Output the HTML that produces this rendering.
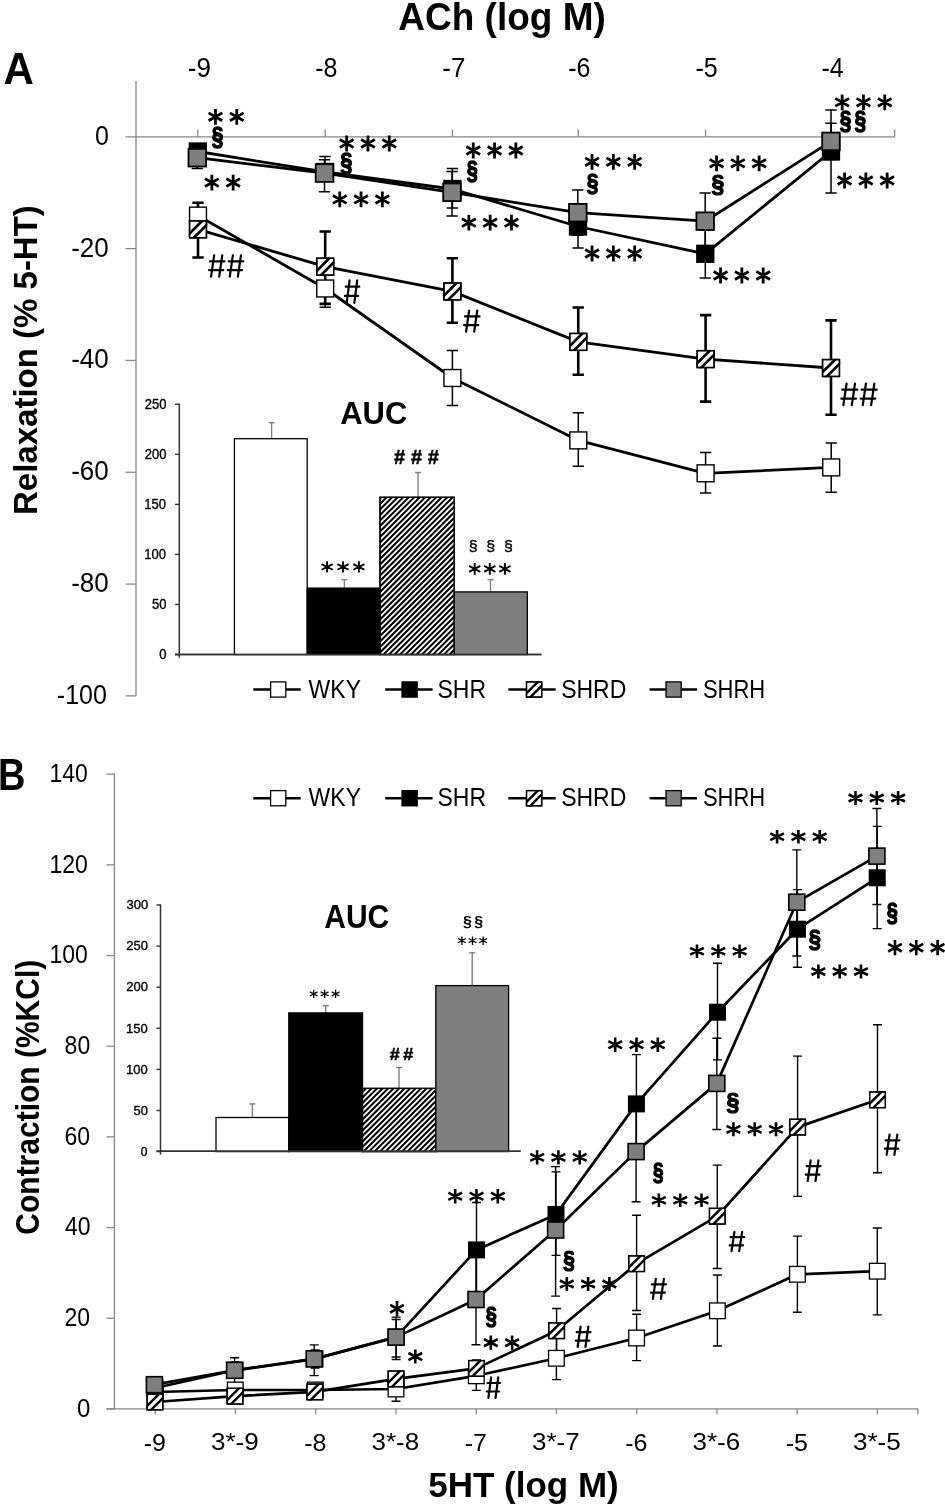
<!DOCTYPE html>
<html><head><meta charset="utf-8"><style>
html,body{margin:0;padding:0;background:#fff;}
svg{display:block;}
text{font-family:"Liberation Sans",sans-serif;font-kerning:none;}
svg{will-change:transform;}
</style></head><body>
<svg width="945" height="1506" viewBox="0 0 945 1506">
<rect width="945" height="1506" fill="#fff"/>
<text transform="matrix(0.42,0,0,0.45,3.55,84)" font-size="100" font-weight="bold" fill="#000">A</text>
<text transform="matrix(0.37,0,0,0.38,398.27,30.4)" font-size="100" font-weight="bold" fill="#000">ACh (log M)</text>
<text transform="matrix(0.26,0,0,0.27,187.76,76.74)" font-size="100" font-weight="normal" fill="#000">-9</text>
<text transform="matrix(0.25,0,0,0.27,315.17,76.74)" font-size="100" font-weight="normal" fill="#000">-8</text>
<text transform="matrix(0.26,0,0,0.28,442.36,77)" font-size="100" font-weight="normal" fill="#000">-7</text>
<text transform="matrix(0.25,0,0,0.27,568.27,76.74)" font-size="100" font-weight="normal" fill="#000">-6</text>
<text transform="matrix(0.25,0,0,0.27,695.47,76.73)" font-size="100" font-weight="normal" fill="#000">-5</text>
<text transform="matrix(0.25,0,0,0.28,821.39,77)" font-size="100" font-weight="normal" fill="#000">-4</text>
<line x1="136" y1="81" x2="136" y2="696" stroke="#868686" stroke-width="1.3"/>
<line x1="125.5" y1="136.8" x2="895" y2="136.8" stroke="#868686" stroke-width="1.3"/>
<line x1="197.8" y1="129.5" x2="197.8" y2="136.8" stroke="#868686" stroke-width="1.3"/>
<line x1="325.2" y1="129.5" x2="325.2" y2="136.8" stroke="#868686" stroke-width="1.3"/>
<line x1="452.4" y1="129.5" x2="452.4" y2="136.8" stroke="#868686" stroke-width="1.3"/>
<line x1="578.3" y1="129.5" x2="578.3" y2="136.8" stroke="#868686" stroke-width="1.3"/>
<line x1="705.5" y1="129.5" x2="705.5" y2="136.8" stroke="#868686" stroke-width="1.3"/>
<line x1="831.4" y1="129.5" x2="831.4" y2="136.8" stroke="#868686" stroke-width="1.3"/>
<line x1="894.6" y1="129.5" x2="894.6" y2="136.8" stroke="#868686" stroke-width="1.3"/>
<line x1="125.5" y1="248.62" x2="136" y2="248.62" stroke="#868686" stroke-width="1.3"/>
<line x1="125.5" y1="360.44" x2="136" y2="360.44" stroke="#868686" stroke-width="1.3"/>
<line x1="125.5" y1="472.26" x2="136" y2="472.26" stroke="#868686" stroke-width="1.3"/>
<line x1="125.5" y1="584.08" x2="136" y2="584.08" stroke="#868686" stroke-width="1.3"/>
<line x1="125.5" y1="695.9" x2="136" y2="695.9" stroke="#868686" stroke-width="1.3"/>
<text transform="matrix(0.25,0,0,0.27,95.02,144.74)" font-size="100" font-weight="normal" fill="#000">0</text>
<text transform="matrix(0.26,0,0,0.27,71.14,256.56)" font-size="100" font-weight="normal" fill="#000">-20</text>
<text transform="matrix(0.26,0,0,0.27,71.14,368.38)" font-size="100" font-weight="normal" fill="#000">-40</text>
<text transform="matrix(0.26,0,0,0.27,71.14,480.2)" font-size="100" font-weight="normal" fill="#000">-60</text>
<text transform="matrix(0.26,0,0,0.27,71.14,592.02)" font-size="100" font-weight="normal" fill="#000">-80</text>
<text transform="matrix(0.25,0,0,0.27,56.87,703.84)" font-size="100" font-weight="normal" fill="#000">-100</text>
<text transform="matrix(0,-0.33,0.34,0,37.4,515)" font-size="100" font-weight="bold">Relaxation (% 5-HT)</text>
<line x1="179.3" y1="403.5" x2="179.3" y2="657.8" stroke="#333" stroke-width="1.5"/>
<line x1="175" y1="654.5" x2="541.5" y2="654.5" stroke="#333" stroke-width="1.4"/>
<line x1="175" y1="654.5" x2="179.3" y2="654.5" stroke="#333" stroke-width="1.4"/>
<text transform="matrix(0.13,0,0,0.14,159.37,659.19)" font-size="100" font-weight="normal" fill="#000" stroke="#000" stroke-width="2.64" stroke-linejoin="round">0</text>
<line x1="175" y1="604.46" x2="179.3" y2="604.46" stroke="#333" stroke-width="1.4"/>
<text transform="matrix(0.13,0,0,0.14,152.11,609.15)" font-size="100" font-weight="normal" fill="#000" stroke="#000" stroke-width="2.63" stroke-linejoin="round">50</text>
<line x1="175" y1="554.42" x2="179.3" y2="554.42" stroke="#333" stroke-width="1.4"/>
<text transform="matrix(0.13,0,0,0.14,144.36,559.11)" font-size="100" font-weight="normal" fill="#000" stroke="#000" stroke-width="2.6" stroke-linejoin="round">100</text>
<line x1="175" y1="504.38" x2="179.3" y2="504.38" stroke="#333" stroke-width="1.4"/>
<text transform="matrix(0.13,0,0,0.14,144.36,509.07)" font-size="100" font-weight="normal" fill="#000" stroke="#000" stroke-width="2.6" stroke-linejoin="round">150</text>
<line x1="175" y1="454.34" x2="179.3" y2="454.34" stroke="#333" stroke-width="1.4"/>
<text transform="matrix(0.13,0,0,0.14,144.72,459.03)" font-size="100" font-weight="normal" fill="#000" stroke="#000" stroke-width="2.62" stroke-linejoin="round">200</text>
<line x1="175" y1="404.3" x2="179.3" y2="404.3" stroke="#333" stroke-width="1.4"/>
<text transform="matrix(0.13,0,0,0.14,144.72,408.99)" font-size="100" font-weight="normal" fill="#000" stroke="#000" stroke-width="2.62" stroke-linejoin="round">250</text>
<line x1="271.6" y1="422.6" x2="271.6" y2="438.7" stroke="#7f7f7f" stroke-width="1.4"/>
<line x1="268.6" y1="422.6" x2="274.6" y2="422.6" stroke="#7f7f7f" stroke-width="1.4"/>
<line x1="344.4" y1="579.6" x2="344.4" y2="588.1" stroke="#7f7f7f" stroke-width="1.4"/>
<line x1="341.4" y1="579.6" x2="347.4" y2="579.6" stroke="#7f7f7f" stroke-width="1.4"/>
<line x1="418" y1="472.5" x2="418" y2="497.3" stroke="#7f7f7f" stroke-width="1.4"/>
<line x1="415" y1="472.5" x2="421" y2="472.5" stroke="#7f7f7f" stroke-width="1.4"/>
<line x1="490.5" y1="579.6" x2="490.5" y2="591.9" stroke="#7f7f7f" stroke-width="1.4"/>
<line x1="487.5" y1="579.6" x2="493.5" y2="579.6" stroke="#7f7f7f" stroke-width="1.4"/>
<rect x="234.4" y="438.7" width="72.8" height="215.8" fill="#fff" stroke="#000" stroke-width="1.3"/>
<rect x="307.2" y="588.1" width="72.8" height="66.4" fill="#000" stroke="#000" stroke-width="1.3"/>
<rect x="380" y="497.3" width="74.3" height="157.2" fill="#fff" stroke="#000" stroke-width="1.3"/>
<clipPath id="hbA"><rect x="380" y="497.3" width="74.3" height="157.2"/></clipPath>
<path clip-path="url(#hbA)" d="M180 660L480 360M185.5 660L485.5 360M191 660L491 360M196.5 660L496.5 360M202 660L502 360M207.5 660L507.5 360M213 660L513 360M218.5 660L518.5 360M224 660L524 360M229.5 660L529.5 360M235 660L535 360M240.5 660L540.5 360M246 660L546 360M251.5 660L551.5 360M257 660L557 360M262.5 660L562.5 360M268 660L568 360M273.5 660L573.5 360M279 660L579 360M284.5 660L584.5 360M290 660L590 360M295.5 660L595.5 360M301 660L601 360M306.5 660L606.5 360M312 660L612 360M317.5 660L617.5 360M323 660L623 360M328.5 660L628.5 360M334 660L634 360M339.5 660L639.5 360M345 660L645 360M350.5 660L650.5 360M356 660L656 360M361.5 660L661.5 360M367 660L667 360M372.5 660L672.5 360M378 660L678 360M383.5 660L683.5 360M389 660L689 360M394.5 660L694.5 360M400 660L700 360M405.5 660L705.5 360M411 660L711 360M416.5 660L716.5 360M422 660L722 360M427.5 660L727.5 360M433 660L733 360M438.5 660L738.5 360M444 660L744 360M449.5 660L749.5 360M455 660L755 360M460.5 660L760.5 360" stroke="#000" stroke-width="2.0"/>
<rect x="380" y="497.3" width="74.3" height="157.2" fill="none" stroke="#000" stroke-width="1.3"/>
<rect x="454.3" y="591.9" width="73" height="62.6" fill="#7f7f7f" stroke="#000" stroke-width="1.3"/>
<line x1="175" y1="654.5" x2="541.5" y2="654.5" stroke="#333" stroke-width="1.7"/>
<text transform="matrix(0.31,0,0,0.32,340.23,423.9)" font-size="100" font-weight="bold" fill="#000">AUC</text>
<path d="M327.1 561.2V572.6M321.48 564.05L332.73 569.75M321.48 569.75L332.73 564.05M343 561.2V572.6M337.38 564.05L348.62 569.75M337.38 569.75L348.62 564.05M358.9 561.2V572.6M353.28 564.05L364.53 569.75M353.28 569.75L364.53 564.05" stroke="#000" stroke-width="1.9" fill="none"/>
<path d="M474.7 563V574.8M469.08 565.95L480.33 571.85M469.08 571.85L480.33 565.95M489.8 563V574.8M484.18 565.95L495.43 571.85M484.18 571.85L495.43 565.95M504.9 563V574.8M499.28 565.95L510.53 571.85M499.28 571.85L510.53 565.95" stroke="#000" stroke-width="1.9" fill="none"/>
<text transform="matrix(0.2,0,0,0.2,394.11,464.35)" font-size="100" font-weight="bold" fill="#000" stroke="#000" stroke-width="2.5" stroke-linejoin="round">#</text>
<text transform="matrix(0.2,0,0,0.2,410.91,464.35)" font-size="100" font-weight="bold" fill="#000" stroke="#000" stroke-width="2.5" stroke-linejoin="round">#</text>
<text transform="matrix(0.2,0,0,0.2,427.71,464.35)" font-size="100" font-weight="bold" fill="#000" stroke="#000" stroke-width="2.5" stroke-linejoin="round">#</text>
<text transform="matrix(0.16,0,0,0.15,468.8,551.13)" font-size="100" font-weight="normal" fill="#000" stroke="#000" stroke-width="2.57" stroke-linejoin="round">§</text>
<text transform="matrix(0.16,0,0,0.15,486.3,551.13)" font-size="100" font-weight="normal" fill="#000" stroke="#000" stroke-width="2.57" stroke-linejoin="round">§</text>
<text transform="matrix(0.16,0,0,0.15,503.9,551.13)" font-size="100" font-weight="normal" fill="#000" stroke="#000" stroke-width="2.57" stroke-linejoin="round">§</text>
<line x1="253.3" y1="689.5" x2="300.7" y2="689.5" stroke="#000" stroke-width="2.4"/>
<rect x="270.6" y="681.9" width="15.2" height="15.2" fill="#fff" stroke="#000" stroke-width="1.3"/>
<text transform="matrix(0.23,0,0,0.25,308.6,697.5)" font-size="100" font-weight="normal" fill="#000">WKY</text>
<line x1="385.2" y1="689.5" x2="432.6" y2="689.5" stroke="#000" stroke-width="2.4"/>
<rect x="402" y="681.9" width="15.2" height="15.2" fill="#000" stroke="#000" stroke-width="1.3"/>
<text transform="matrix(0.23,0,0,0.25,437.45,697.56)" font-size="100" font-weight="normal" fill="#000">SHR</text>
<line x1="508.3" y1="689.5" x2="555.7" y2="689.5" stroke="#000" stroke-width="2.4"/>
<rect x="526.5" y="681.9" width="15.2" height="15.2" fill="#fff" stroke="#000" stroke-width="1.3"/>
<clipPath id="c1"><rect x="525.85" y="681.25" width="16.5" height="16.5"/></clipPath>
<path clip-path="url(#c1)" d="M515.67 704.07L548.67 671.07M519.53 707.93L552.53 674.93" stroke="#000" stroke-width="2.39"/>
<rect x="526.5" y="681.9" width="15.2" height="15.2" fill="none" stroke="#000" stroke-width="1.3"/>
<text transform="matrix(0.23,0,0,0.25,561.14,697.56)" font-size="100" font-weight="normal" fill="#000">SHRD</text>
<line x1="649.6" y1="689.5" x2="697" y2="689.5" stroke="#000" stroke-width="2.4"/>
<rect x="666" y="681.9" width="15.2" height="15.2" fill="#7f7f7f" stroke="#000" stroke-width="1.3"/>
<text transform="matrix(0.22,0,0,0.25,702.9,697.56)" font-size="100" font-weight="normal" fill="#000">SHRH</text>
<path d="M198 210V222M192.35 210H203.65M192.35 222H203.65" stroke="#000" stroke-width="1.5" fill="none"/>
<path d="M325.2 269.8V307.2M319.55 269.8H330.85M319.55 307.2H330.85" stroke="#000" stroke-width="1.5" fill="none"/>
<path d="M452.4 350.6V405.4M446.75 350.6H458.05M446.75 405.4H458.05" stroke="#000" stroke-width="1.5" fill="none"/>
<path d="M578.3 412.7V466.2M572.65 412.7H583.95M572.65 466.2H583.95" stroke="#000" stroke-width="1.5" fill="none"/>
<path d="M705.6 452.5V493.1M699.95 452.5H711.25M699.95 493.1H711.25" stroke="#000" stroke-width="1.5" fill="none"/>
<path d="M831.2 443.1V492.2M825.55 443.1H836.85M825.55 492.2H836.85" stroke="#000" stroke-width="1.5" fill="none"/>
<path d="M197.8 148V155M192.15 148H203.45M192.15 155H203.45" stroke="#000" stroke-width="1.5" fill="none"/>
<path d="M325 156.5V180M319.35 156.5H330.65M319.35 180H330.65" stroke="#000" stroke-width="1.5" fill="none"/>
<path d="M452.4 168.6V208M446.75 168.6H458.05M446.75 208H458.05" stroke="#000" stroke-width="1.5" fill="none"/>
<path d="M578 205V248M572.35 205H583.65M572.35 248H583.65" stroke="#000" stroke-width="1.5" fill="none"/>
<path d="M705.3 229.5V278.1M699.65 229.5H710.95M699.65 278.1H710.95" stroke="#000" stroke-width="1.5" fill="none"/>
<path d="M831 110.1V193M825.35 110.1H836.65M825.35 193H836.65" stroke="#000" stroke-width="1.5" fill="none"/>
<path d="M198 202.7V257.5M192.35 202.7H203.65M192.35 257.5H203.65" stroke="#000" stroke-width="2.6" fill="none"/>
<path d="M325.2 231.5V303.9M319.55 231.5H330.85M319.55 303.9H330.85" stroke="#000" stroke-width="2.6" fill="none"/>
<path d="M452.4 258.3V322.8M446.75 258.3H458.05M446.75 322.8H458.05" stroke="#000" stroke-width="2.6" fill="none"/>
<path d="M578.25 307.5V374.8M572.6 307.5H583.9M572.6 374.8H583.9" stroke="#000" stroke-width="2.6" fill="none"/>
<path d="M705.6 315.1V401.6M699.95 315.1H711.25M699.95 401.6H711.25" stroke="#000" stroke-width="2.6" fill="none"/>
<path d="M831 320.4V414.7M825.35 320.4H836.65M825.35 414.7H836.65" stroke="#000" stroke-width="2.6" fill="none"/>
<path d="M197.3 147.1V168.4M191.65 147.1H202.95M191.65 168.4H202.95" stroke="#000" stroke-width="1.5" fill="none"/>
<path d="M324.5 159.8V191.7M318.85 159.8H330.15M318.85 191.7H330.15" stroke="#000" stroke-width="1.5" fill="none"/>
<path d="M452 171.6V216.1M446.35 171.6H457.65M446.35 216.1H457.65" stroke="#000" stroke-width="1.5" fill="none"/>
<path d="M577.8 190.1V235.3M572.15 190.1H583.45M572.15 235.3H583.45" stroke="#000" stroke-width="1.5" fill="none"/>
<path d="M705.2 193V249.4M699.55 193H710.85M699.55 249.4H710.85" stroke="#000" stroke-width="1.5" fill="none"/>
<path d="M831 123.2V159.6M825.35 123.2H836.65M825.35 159.6H836.65" stroke="#000" stroke-width="1.5" fill="none"/>
<polyline points="198,215.6 325.2,288.5 452.4,378 578.3,440.4 705.6,473.3 831.2,467.4" fill="none" stroke="#000" stroke-width="2.8" stroke-linejoin="round"/>
<rect x="189.55" y="207.15" width="16.9" height="16.9" fill="#fff" stroke="#000" stroke-width="1.4"/>
<rect x="316.75" y="280.05" width="16.9" height="16.9" fill="#fff" stroke="#000" stroke-width="1.4"/>
<rect x="443.95" y="369.55" width="16.9" height="16.9" fill="#fff" stroke="#000" stroke-width="1.4"/>
<rect x="569.85" y="431.95" width="16.9" height="16.9" fill="#fff" stroke="#000" stroke-width="1.4"/>
<rect x="697.15" y="464.85" width="16.9" height="16.9" fill="#fff" stroke="#000" stroke-width="1.4"/>
<rect x="822.75" y="458.95" width="16.9" height="16.9" fill="#fff" stroke="#000" stroke-width="1.4"/>
<polyline points="197.8,151.5 325,172 452.4,189 578,226.5 705.3,253.8 831,151.5" fill="none" stroke="#000" stroke-width="2.8" stroke-linejoin="round"/>
<rect x="189.35" y="143.05" width="16.9" height="16.9" fill="#000" stroke="#000" stroke-width="1.4"/>
<rect x="316.55" y="163.55" width="16.9" height="16.9" fill="#000" stroke="#000" stroke-width="1.4"/>
<rect x="443.95" y="180.55" width="16.9" height="16.9" fill="#000" stroke="#000" stroke-width="1.4"/>
<rect x="569.55" y="218.05" width="16.9" height="16.9" fill="#000" stroke="#000" stroke-width="1.4"/>
<rect x="696.85" y="245.35" width="16.9" height="16.9" fill="#000" stroke="#000" stroke-width="1.4"/>
<rect x="822.55" y="143.05" width="16.9" height="16.9" fill="#000" stroke="#000" stroke-width="1.4"/>
<polyline points="198,229.3 325.2,266.7 452.4,291.4 578.25,341.9 705.6,359.1 831,368" fill="none" stroke="#000" stroke-width="2.8" stroke-linejoin="round"/>
<rect x="189.55" y="220.85" width="16.9" height="16.9" fill="#fff" stroke="#000" stroke-width="1.4"/>
<clipPath id="c2"><rect x="188.85" y="220.15" width="18.3" height="18.3"/></clipPath>
<path clip-path="url(#c2)" d="M177.56 245.46L214.16 208.86M181.84 249.74L218.44 213.14" stroke="#000" stroke-width="2.65"/>
<rect x="189.55" y="220.85" width="16.9" height="16.9" fill="none" stroke="#000" stroke-width="1.4"/>
<rect x="316.75" y="258.25" width="16.9" height="16.9" fill="#fff" stroke="#000" stroke-width="1.4"/>
<clipPath id="c3"><rect x="316.05" y="257.55" width="18.3" height="18.3"/></clipPath>
<path clip-path="url(#c3)" d="M304.76 282.86L341.36 246.26M309.04 287.14L345.64 250.54" stroke="#000" stroke-width="2.65"/>
<rect x="316.75" y="258.25" width="16.9" height="16.9" fill="none" stroke="#000" stroke-width="1.4"/>
<rect x="443.95" y="282.95" width="16.9" height="16.9" fill="#fff" stroke="#000" stroke-width="1.4"/>
<clipPath id="c4"><rect x="443.25" y="282.25" width="18.3" height="18.3"/></clipPath>
<path clip-path="url(#c4)" d="M431.96 307.56L468.56 270.96M436.24 311.84L472.84 275.24" stroke="#000" stroke-width="2.65"/>
<rect x="443.95" y="282.95" width="16.9" height="16.9" fill="none" stroke="#000" stroke-width="1.4"/>
<rect x="569.8" y="333.45" width="16.9" height="16.9" fill="#fff" stroke="#000" stroke-width="1.4"/>
<clipPath id="c5"><rect x="569.1" y="332.75" width="18.3" height="18.3"/></clipPath>
<path clip-path="url(#c5)" d="M557.81 358.06L594.41 321.46M562.09 362.34L598.69 325.74" stroke="#000" stroke-width="2.65"/>
<rect x="569.8" y="333.45" width="16.9" height="16.9" fill="none" stroke="#000" stroke-width="1.4"/>
<rect x="697.15" y="350.65" width="16.9" height="16.9" fill="#fff" stroke="#000" stroke-width="1.4"/>
<clipPath id="c6"><rect x="696.45" y="349.95" width="18.3" height="18.3"/></clipPath>
<path clip-path="url(#c6)" d="M685.16 375.26L721.76 338.66M689.44 379.54L726.04 342.94" stroke="#000" stroke-width="2.65"/>
<rect x="697.15" y="350.65" width="16.9" height="16.9" fill="none" stroke="#000" stroke-width="1.4"/>
<rect x="822.55" y="359.55" width="16.9" height="16.9" fill="#fff" stroke="#000" stroke-width="1.4"/>
<clipPath id="c7"><rect x="821.85" y="358.85" width="18.3" height="18.3"/></clipPath>
<path clip-path="url(#c7)" d="M810.56 384.16L847.16 347.56M814.84 388.44L851.44 351.84" stroke="#000" stroke-width="2.65"/>
<rect x="822.55" y="359.55" width="16.9" height="16.9" fill="none" stroke="#000" stroke-width="1.4"/>
<polyline points="197.3,157.7 324.5,173.1 452,192.3 577.8,212.7 705.2,221.2 831,141.4" fill="none" stroke="#000" stroke-width="2.8" stroke-linejoin="round"/>
<rect x="188.5" y="148.9" width="17.6" height="17.6" fill="#7f7f7f" stroke="#000" stroke-width="1.8"/>
<rect x="315.7" y="164.3" width="17.6" height="17.6" fill="#7f7f7f" stroke="#000" stroke-width="1.8"/>
<rect x="443.2" y="183.5" width="17.6" height="17.6" fill="#7f7f7f" stroke="#000" stroke-width="1.8"/>
<rect x="569" y="203.9" width="17.6" height="17.6" fill="#7f7f7f" stroke="#000" stroke-width="1.8"/>
<rect x="696.4" y="212.4" width="17.6" height="17.6" fill="#7f7f7f" stroke="#000" stroke-width="1.8"/>
<rect x="822.2" y="132.6" width="17.6" height="17.6" fill="#7f7f7f" stroke="#000" stroke-width="1.8"/>
<path d="M215.45 108.9V124.7M208.6 112.85L222.3 120.75M208.6 120.75L222.3 112.85M236.75 108.9V124.7M229.9 112.85L243.6 120.75M229.9 120.75L243.6 112.85" stroke="#000" stroke-width="2.8" fill="none"/>
<text transform="matrix(0.21,0,0,0.26,211.65,145.2)" font-size="100" font-weight="bold" fill="#000" stroke="#000" stroke-width="5.08" stroke-linejoin="round">§</text>
<path d="M211.85 174.7V190.5M205 178.65L218.7 186.55M205 186.55L218.7 178.65M233.15 174.7V190.5M226.3 178.65L240 186.55M226.3 186.55L240 178.65" stroke="#000" stroke-width="2.8" fill="none"/>
<path d="M214.16 255.4L211.08 276.7M222.26 255.4L219.18 276.7M209.98 261.35H224.5M209.1 270.16H223.27M232.86 255.4L229.78 276.7M240.96 255.4L237.88 276.7M228.68 261.35H243.2M227.8 270.16H241.97" stroke="#000" stroke-width="2.2" stroke-linecap="round" fill="none"/>
<path d="M346.65 135.6V151.4M339.8 139.55L353.5 147.45M339.8 147.45L353.5 139.55M367.95 135.6V151.4M361.1 139.55L374.8 147.45M361.1 147.45L374.8 139.55M389.25 135.6V151.4M382.4 139.55L396.1 147.45M382.4 147.45L396.1 139.55" stroke="#000" stroke-width="2.8" fill="none"/>
<text transform="matrix(0.22,0,0,0.25,340.23,170.55)" font-size="100" font-weight="bold" fill="#000" stroke="#000" stroke-width="5.07" stroke-linejoin="round">§</text>
<path d="M339.75 191.5V207.3M332.9 195.45L346.6 203.35M332.9 203.35L346.6 195.45M361.05 191.5V207.3M354.2 195.45L367.9 203.35M354.2 203.35L367.9 195.45M382.35 191.5V207.3M375.5 195.45L389.2 203.35M375.5 203.35L389.2 195.45" stroke="#000" stroke-width="2.8" fill="none"/>
<path d="M349.61 280.4L346.7 302.8M357.25 280.4L354.34 302.8M345.73 286.68H359.3M344.9 295.9H358.14" stroke="#000" stroke-width="2.2" stroke-linecap="round" fill="none"/>
<path d="M473.25 142.6V158.4M466.4 146.55L480.1 154.45M466.4 154.45L480.1 146.55M494.55 142.6V158.4M487.7 146.55L501.4 154.45M487.7 154.45L501.4 146.55M515.85 142.6V158.4M509 146.55L522.7 154.45M509 154.45L522.7 146.55" stroke="#000" stroke-width="2.8" fill="none"/>
<text transform="matrix(0.2,0,0,0.26,466.67,178.74)" font-size="100" font-weight="bold" fill="#000" stroke="#000" stroke-width="5.22" stroke-linejoin="round">§</text>
<path d="M468.85 214.8V230.6M462 218.75L475.7 226.65M462 226.65L475.7 218.75M490.15 214.8V230.6M483.3 218.75L497 226.65M483.3 226.65L497 218.75M511.45 214.8V230.6M504.6 218.75L518.3 226.65M504.6 226.65L518.3 218.75" stroke="#000" stroke-width="2.8" fill="none"/>
<path d="M469.16 310.5L466.08 331.6M477.26 310.5L474.18 331.6M464.98 316.39H479.5M464.1 325.13H478.27" stroke="#000" stroke-width="2.2" stroke-linecap="round" fill="none"/>
<path d="M592.05 153.9V169.7M585.2 157.85L598.9 165.75M585.2 165.75L598.9 157.85M613.35 153.9V169.7M606.5 157.85L620.2 165.75M606.5 165.75L620.2 157.85M634.65 153.9V169.7M627.8 157.85L641.5 165.75M627.8 165.75L641.5 157.85" stroke="#000" stroke-width="2.8" fill="none"/>
<text transform="matrix(0.21,0,0,0.24,586.75,190.86)" font-size="100" font-weight="bold" fill="#000" stroke="#000" stroke-width="5.25" stroke-linejoin="round">§</text>
<path d="M592.05 245.6V261.4M585.2 249.55L598.9 257.45M585.2 257.45L598.9 249.55M613.35 245.6V261.4M606.5 249.55L620.2 257.45M606.5 257.45L620.2 249.55M634.65 245.6V261.4M627.8 249.55L641.5 257.45M627.8 257.45L641.5 249.55" stroke="#000" stroke-width="2.8" fill="none"/>
<path d="M716.55 155.4V171.2M709.7 159.35L723.4 167.25M709.7 167.25L723.4 159.35M737.85 155.4V171.2M731 159.35L744.7 167.25M731 167.25L744.7 159.35M759.15 155.4V171.2M752.3 159.35L766 167.25M752.3 167.25L766 159.35" stroke="#000" stroke-width="2.8" fill="none"/>
<text transform="matrix(0.23,0,0,0.24,711.4,192.06)" font-size="100" font-weight="bold" fill="#000" stroke="#000" stroke-width="5.02" stroke-linejoin="round">§</text>
<path d="M720.55 267.6V283.4M713.7 271.55L727.4 279.45M713.7 279.45L727.4 271.55M741.85 267.6V283.4M735 271.55L748.7 279.45M735 279.45L748.7 271.55M763.15 267.6V283.4M756.3 271.55L770 279.45M756.3 279.45L770 271.55" stroke="#000" stroke-width="2.8" fill="none"/>
<path d="M842.15 94.4V110.2M835.3 98.35L849 106.25M835.3 106.25L849 98.35M863.45 94.4V110.2M856.6 98.35L870.3 106.25M856.6 106.25L870.3 98.35M884.75 94.4V110.2M877.9 98.35L891.6 106.25M877.9 106.25L891.6 98.35" stroke="#000" stroke-width="2.8" fill="none"/>
<text transform="matrix(0.21,0,0,0.25,839.65,129.17)" font-size="100" font-weight="bold" fill="#000" stroke="#000" stroke-width="5.13" stroke-linejoin="round">§</text>
<text transform="matrix(0.21,0,0,0.25,854.45,129.17)" font-size="100" font-weight="bold" fill="#000" stroke="#000" stroke-width="5.13" stroke-linejoin="round">§</text>
<path d="M844.55 172.6V188.4M837.7 176.55L851.4 184.45M837.7 184.45L851.4 176.55M865.85 172.6V188.4M859 176.55L872.7 184.45M859 184.45L872.7 176.55M887.15 172.6V188.4M880.3 176.55L894 184.45M880.3 184.45L894 176.55" stroke="#000" stroke-width="2.8" fill="none"/>
<path d="M846.59 383.7L843.39 405.2M854.98 383.7L851.79 405.2M842.21 389.71H857.35M841.3 398.6H856.07M865.94 383.7L862.74 405.2M874.33 383.7L871.14 405.2M861.56 389.71H876.7M860.65 398.6H875.42" stroke="#000" stroke-width="2.2" stroke-linecap="round" fill="none"/>
<text transform="matrix(0.38,0,0,0.45,-2.11,790.3)" font-size="100" font-weight="bold" fill="#000">B</text>
<line x1="114.4" y1="773.5" x2="114.4" y2="1409.5" stroke="#868686" stroke-width="1.3"/>
<line x1="106.5" y1="1408.9" x2="918.2" y2="1408.9" stroke="#868686" stroke-width="1.3"/>
<line x1="106.5" y1="1408.9" x2="114.4" y2="1408.9" stroke="#868686" stroke-width="1.3"/>
<line x1="106.5" y1="1318.23" x2="114.4" y2="1318.23" stroke="#868686" stroke-width="1.3"/>
<line x1="106.5" y1="1227.56" x2="114.4" y2="1227.56" stroke="#868686" stroke-width="1.3"/>
<line x1="106.5" y1="1136.89" x2="114.4" y2="1136.89" stroke="#868686" stroke-width="1.3"/>
<line x1="106.5" y1="1046.21" x2="114.4" y2="1046.21" stroke="#868686" stroke-width="1.3"/>
<line x1="106.5" y1="955.54" x2="114.4" y2="955.54" stroke="#868686" stroke-width="1.3"/>
<line x1="106.5" y1="864.87" x2="114.4" y2="864.87" stroke="#868686" stroke-width="1.3"/>
<line x1="106.5" y1="774.2" x2="114.4" y2="774.2" stroke="#868686" stroke-width="1.3"/>
<line x1="155.2" y1="1408.9" x2="155.2" y2="1414.2" stroke="#868686" stroke-width="1.3"/>
<line x1="235.45" y1="1408.9" x2="235.45" y2="1414.2" stroke="#868686" stroke-width="1.3"/>
<line x1="315.7" y1="1408.9" x2="315.7" y2="1414.2" stroke="#868686" stroke-width="1.3"/>
<line x1="395.95" y1="1408.9" x2="395.95" y2="1414.2" stroke="#868686" stroke-width="1.3"/>
<line x1="476.2" y1="1408.9" x2="476.2" y2="1414.2" stroke="#868686" stroke-width="1.3"/>
<line x1="556.45" y1="1408.9" x2="556.45" y2="1414.2" stroke="#868686" stroke-width="1.3"/>
<line x1="636.7" y1="1408.9" x2="636.7" y2="1414.2" stroke="#868686" stroke-width="1.3"/>
<line x1="716.95" y1="1408.9" x2="716.95" y2="1414.2" stroke="#868686" stroke-width="1.3"/>
<line x1="797.2" y1="1408.9" x2="797.2" y2="1414.2" stroke="#868686" stroke-width="1.3"/>
<line x1="877.45" y1="1408.9" x2="877.45" y2="1414.2" stroke="#868686" stroke-width="1.3"/>
<line x1="917.9" y1="1408.9" x2="917.9" y2="1414.2" stroke="#868686" stroke-width="1.3"/>
<text transform="matrix(0.24,0,0,0.25,77.08,1416.66)" font-size="100" font-weight="normal" fill="#000">0</text>
<text transform="matrix(0.23,0,0,0.25,64.43,1325.99)" font-size="100" font-weight="normal" fill="#000">20</text>
<text transform="matrix(0.23,0,0,0.25,65.08,1235.31)" font-size="100" font-weight="normal" fill="#000">40</text>
<text transform="matrix(0.23,0,0,0.25,64.42,1144.64)" font-size="100" font-weight="normal" fill="#000">60</text>
<text transform="matrix(0.23,0,0,0.25,64.6,1053.97)" font-size="100" font-weight="normal" fill="#000">80</text>
<text transform="matrix(0.23,0,0,0.25,49.53,963.3)" font-size="100" font-weight="normal" fill="#000">100</text>
<text transform="matrix(0.23,0,0,0.25,49.53,872.63)" font-size="100" font-weight="normal" fill="#000">120</text>
<text transform="matrix(0.23,0,0,0.25,49.53,781.96)" font-size="100" font-weight="normal" fill="#000">140</text>
<text transform="matrix(0.25,0,0,0.23,143.8,1450.57)" font-size="100" font-weight="normal" fill="#000">-9</text>
<text transform="matrix(0.26,0,0,0.23,210.95,1450.37)" font-size="100" font-weight="normal" fill="#000">3*-9</text>
<text transform="matrix(0.25,0,0,0.23,304.3,1450.57)" font-size="100" font-weight="normal" fill="#000">-8</text>
<text transform="matrix(0.26,0,0,0.23,371.45,1450.37)" font-size="100" font-weight="normal" fill="#000">3*-8</text>
<text transform="matrix(0.25,0,0,0.24,464.79,1450.8)" font-size="100" font-weight="normal" fill="#000">-7</text>
<text transform="matrix(0.26,0,0,0.23,531.95,1450.37)" font-size="100" font-weight="normal" fill="#000">3*-7</text>
<text transform="matrix(0.25,0,0,0.23,625.3,1450.57)" font-size="100" font-weight="normal" fill="#000">-6</text>
<text transform="matrix(0.26,0,0,0.23,692.45,1450.37)" font-size="100" font-weight="normal" fill="#000">3*-6</text>
<text transform="matrix(0.25,0,0,0.24,785.8,1450.57)" font-size="100" font-weight="normal" fill="#000">-5</text>
<text transform="matrix(0.26,0,0,0.23,852.96,1450.37)" font-size="100" font-weight="normal" fill="#000">3*-5</text>
<text transform="matrix(0.35,0,0,0.35,428.23,1496.7)" font-size="100" font-weight="bold" fill="#000">5HT (log M)</text>
<text transform="matrix(0,-0.3,0.34,0,38.5,1234.65)" font-size="100" font-weight="bold">Contraction (%KCl)</text>
<line x1="160.5" y1="904.3" x2="160.5" y2="1154.6" stroke="#333" stroke-width="1.5"/>
<line x1="156.4" y1="1151.6" x2="160.5" y2="1151.6" stroke="#333" stroke-width="1.4"/>
<text transform="matrix(0.12,0,0,0.12,140.69,1155.81)" font-size="100" font-weight="normal" fill="#000" stroke="#000" stroke-width="2.84" stroke-linejoin="round">0</text>
<line x1="156.4" y1="1110.5" x2="160.5" y2="1110.5" stroke="#333" stroke-width="1.4"/>
<text transform="matrix(0.13,0,0,0.12,133.57,1114.71)" font-size="100" font-weight="normal" fill="#000" stroke="#000" stroke-width="2.82" stroke-linejoin="round">50</text>
<line x1="156.4" y1="1069.4" x2="160.5" y2="1069.4" stroke="#333" stroke-width="1.4"/>
<text transform="matrix(0.13,0,0,0.12,125.99,1073.61)" font-size="100" font-weight="normal" fill="#000" stroke="#000" stroke-width="2.78" stroke-linejoin="round">100</text>
<line x1="156.4" y1="1028.3" x2="160.5" y2="1028.3" stroke="#333" stroke-width="1.4"/>
<text transform="matrix(0.13,0,0,0.12,125.99,1032.51)" font-size="100" font-weight="normal" fill="#000" stroke="#000" stroke-width="2.78" stroke-linejoin="round">150</text>
<line x1="156.4" y1="987.2" x2="160.5" y2="987.2" stroke="#333" stroke-width="1.4"/>
<text transform="matrix(0.13,0,0,0.12,126.33,991.41)" font-size="100" font-weight="normal" fill="#000" stroke="#000" stroke-width="2.8" stroke-linejoin="round">200</text>
<line x1="156.4" y1="946.1" x2="160.5" y2="946.1" stroke="#333" stroke-width="1.4"/>
<text transform="matrix(0.13,0,0,0.12,126.33,950.31)" font-size="100" font-weight="normal" fill="#000" stroke="#000" stroke-width="2.8" stroke-linejoin="round">250</text>
<line x1="156.4" y1="905" x2="160.5" y2="905" stroke="#333" stroke-width="1.4"/>
<text transform="matrix(0.13,0,0,0.12,126.49,909.21)" font-size="100" font-weight="normal" fill="#000" stroke="#000" stroke-width="2.81" stroke-linejoin="round">300</text>
<line x1="252.4" y1="1103.9" x2="252.4" y2="1117.5" stroke="#7f7f7f" stroke-width="1.4"/>
<line x1="249.4" y1="1103.9" x2="255.4" y2="1103.9" stroke="#7f7f7f" stroke-width="1.4"/>
<line x1="325.7" y1="1005.6" x2="325.7" y2="1012.9" stroke="#7f7f7f" stroke-width="1.4"/>
<line x1="322.7" y1="1005.6" x2="328.7" y2="1005.6" stroke="#7f7f7f" stroke-width="1.4"/>
<line x1="399" y1="1067.5" x2="399" y2="1088.4" stroke="#7f7f7f" stroke-width="1.4"/>
<line x1="396" y1="1067.5" x2="402" y2="1067.5" stroke="#7f7f7f" stroke-width="1.4"/>
<line x1="472.2" y1="952.8" x2="472.2" y2="985.6" stroke="#7f7f7f" stroke-width="1.4"/>
<line x1="469.2" y1="952.8" x2="475.2" y2="952.8" stroke="#7f7f7f" stroke-width="1.4"/>
<rect x="216" y="1117.5" width="72.8" height="34.1" fill="#fff" stroke="#000" stroke-width="1.3"/>
<rect x="288.8" y="1012.9" width="73.7" height="138.7" fill="#000" stroke="#000" stroke-width="1.3"/>
<rect x="362.5" y="1088.4" width="73.3" height="63.2" fill="#fff" stroke="#000" stroke-width="1.3"/>
<clipPath id="hbB"><rect x="362.5" y="1088.4" width="73.3" height="63.2"/></clipPath>
<path clip-path="url(#hbB)" d="M162.5 1160L462.5 860M168 1160L468 860M173.5 1160L473.5 860M179 1160L479 860M184.5 1160L484.5 860M190 1160L490 860M195.5 1160L495.5 860M201 1160L501 860M206.5 1160L506.5 860M212 1160L512 860M217.5 1160L517.5 860M223 1160L523 860M228.5 1160L528.5 860M234 1160L534 860M239.5 1160L539.5 860M245 1160L545 860M250.5 1160L550.5 860M256 1160L556 860M261.5 1160L561.5 860M267 1160L567 860M272.5 1160L572.5 860M278 1160L578 860M283.5 1160L583.5 860M289 1160L589 860M294.5 1160L594.5 860M300 1160L600 860M305.5 1160L605.5 860M311 1160L611 860M316.5 1160L616.5 860M322 1160L622 860M327.5 1160L627.5 860M333 1160L633 860M338.5 1160L638.5 860M344 1160L644 860M349.5 1160L649.5 860M355 1160L655 860M360.5 1160L660.5 860M366 1160L666 860M371.5 1160L671.5 860M377 1160L677 860M382.5 1160L682.5 860M388 1160L688 860M393.5 1160L693.5 860M399 1160L699 860M404.5 1160L704.5 860M410 1160L710 860M415.5 1160L715.5 860M421 1160L721 860M426.5 1160L726.5 860M432 1160L732 860M437.5 1160L737.5 860M443 1160L743 860" stroke="#000" stroke-width="2.0"/>
<rect x="362.5" y="1088.4" width="73.3" height="63.2" fill="none" stroke="#000" stroke-width="1.3"/>
<rect x="435.8" y="985.6" width="72.8" height="166" fill="#7f7f7f" stroke="#000" stroke-width="1.3"/>
<line x1="156.4" y1="1151.2" x2="520.9" y2="1151.2" stroke="#333" stroke-width="1.8"/>
<text transform="matrix(0.3,0,0,0.33,324.25,927.5)" font-size="100" font-weight="bold" fill="#000">AUC</text>
<path d="M313.7 989.8V998M309.82 991.85L317.57 995.95M309.82 995.95L317.57 991.85M324.65 989.8V998M320.77 991.85L328.52 995.95M320.77 995.95L328.52 991.85M335.6 989.8V998M331.73 991.85L339.48 995.95M331.73 995.95L339.48 991.85" stroke="#000" stroke-width="1.3" fill="none"/>
<text transform="matrix(0.18,0,0,0.16,389.75,1060.35)" font-size="100" font-weight="bold" fill="#000" stroke="#000" stroke-width="2.97" stroke-linejoin="round">#</text>
<text transform="matrix(0.18,0,0,0.16,403.15,1060.35)" font-size="100" font-weight="bold" fill="#000" stroke="#000" stroke-width="2.97" stroke-linejoin="round">#</text>
<text transform="matrix(0.16,0,0,0.14,462.99,925.98)" font-size="100" font-weight="bold" fill="#000">§</text>
<text transform="matrix(0.16,0,0,0.14,474.19,925.98)" font-size="100" font-weight="bold" fill="#000">§</text>
<path d="M461.9 936.4V944.9M458.02 938.52L465.77 942.77M458.02 942.77L465.77 938.52M472.5 936.4V944.9M468.62 938.52L476.38 942.77M468.62 942.77L476.38 938.52M483.1 936.4V944.9M479.23 938.52L486.98 942.77M479.23 942.77L486.98 938.52" stroke="#000" stroke-width="1.3" fill="none"/>
<line x1="253.3" y1="798.2" x2="300.7" y2="798.2" stroke="#000" stroke-width="2.4"/>
<rect x="270.6" y="790.6" width="15.2" height="15.2" fill="#fff" stroke="#000" stroke-width="1.3"/>
<text transform="matrix(0.23,0,0,0.25,308.6,806.2)" font-size="100" font-weight="normal" fill="#000">WKY</text>
<line x1="385.2" y1="798.2" x2="432.6" y2="798.2" stroke="#000" stroke-width="2.4"/>
<rect x="402" y="790.6" width="15.2" height="15.2" fill="#000" stroke="#000" stroke-width="1.3"/>
<text transform="matrix(0.23,0,0,0.25,437.45,806.26)" font-size="100" font-weight="normal" fill="#000">SHR</text>
<line x1="508.3" y1="798.2" x2="555.7" y2="798.2" stroke="#000" stroke-width="2.4"/>
<rect x="526.5" y="790.6" width="15.2" height="15.2" fill="#fff" stroke="#000" stroke-width="1.3"/>
<clipPath id="c8"><rect x="525.85" y="789.95" width="16.5" height="16.5"/></clipPath>
<path clip-path="url(#c8)" d="M515.67 812.77L548.67 779.77M519.53 816.63L552.53 783.63" stroke="#000" stroke-width="2.39"/>
<rect x="526.5" y="790.6" width="15.2" height="15.2" fill="none" stroke="#000" stroke-width="1.3"/>
<text transform="matrix(0.23,0,0,0.25,561.14,806.26)" font-size="100" font-weight="normal" fill="#000">SHRD</text>
<line x1="649.6" y1="798.2" x2="697" y2="798.2" stroke="#000" stroke-width="2.4"/>
<rect x="666" y="790.6" width="15.2" height="15.2" fill="#7f7f7f" stroke="#000" stroke-width="1.3"/>
<text transform="matrix(0.22,0,0,0.25,702.9,806.26)" font-size="100" font-weight="normal" fill="#000">SHRH</text>
<path d="M155.2 1385V1399M150.7 1385H159.7M150.7 1399H159.7" stroke="#000" stroke-width="1.4" fill="none"/>
<path d="M235.3 1383V1397M230.8 1383H239.8M230.8 1397H239.8" stroke="#000" stroke-width="1.4" fill="none"/>
<path d="M315.3 1383V1397M310.8 1383H319.8M310.8 1397H319.8" stroke="#000" stroke-width="1.4" fill="none"/>
<path d="M396 1377V1401.3M391.5 1377H400.5M391.5 1401.3H400.5" stroke="#000" stroke-width="1.4" fill="none"/>
<path d="M476.3 1361.2V1390.4M471.8 1361.2H480.8M471.8 1390.4H480.8" stroke="#000" stroke-width="1.4" fill="none"/>
<path d="M556.4 1337V1379.6M551.9 1337H560.9M551.9 1379.6H560.9" stroke="#000" stroke-width="1.4" fill="none"/>
<path d="M636.6 1314.2V1360.6M632.1 1314.2H641.1M632.1 1360.6H641.1" stroke="#000" stroke-width="1.4" fill="none"/>
<path d="M717.4 1275V1346M712.9 1275H721.9M712.9 1346H721.9" stroke="#000" stroke-width="1.4" fill="none"/>
<path d="M797.4 1236.1V1312.3M792.9 1236.1H801.9M792.9 1312.3H801.9" stroke="#000" stroke-width="1.4" fill="none"/>
<path d="M877.3 1228V1314.9M872.8 1228H881.8M872.8 1314.9H881.8" stroke="#000" stroke-width="1.4" fill="none"/>
<path d="M155 1383V1393M150.5 1383H159.5M150.5 1393H159.5" stroke="#000" stroke-width="1.4" fill="none"/>
<path d="M235 1362V1378M230.5 1362H239.5M230.5 1378H239.5" stroke="#000" stroke-width="1.4" fill="none"/>
<path d="M315 1350V1368M310.5 1350H319.5M310.5 1368H319.5" stroke="#000" stroke-width="1.4" fill="none"/>
<path d="M396.1 1317.1V1357M391.6 1317.1H400.6M391.6 1357H400.6" stroke="#000" stroke-width="1.4" fill="none"/>
<path d="M476.5 1202.5V1297.3M472 1202.5H481M472 1297.3H481" stroke="#000" stroke-width="1.4" fill="none"/>
<path d="M556 1171.9V1255.4M551.5 1171.9H560.5M551.5 1255.4H560.5" stroke="#000" stroke-width="1.4" fill="none"/>
<path d="M636.4 1054.6V1153.2M631.9 1054.6H640.9M631.9 1153.2H640.9" stroke="#000" stroke-width="1.4" fill="none"/>
<path d="M717.5 963.2V1059.9M713 963.2H722M713 1059.9H722" stroke="#000" stroke-width="1.4" fill="none"/>
<path d="M797.4 889.6V967.3M792.9 889.6H801.9M792.9 967.3H801.9" stroke="#000" stroke-width="1.4" fill="none"/>
<path d="M877.2 826.4V928.6M872.7 826.4H881.7M872.7 928.6H881.7" stroke="#000" stroke-width="1.4" fill="none"/>
<path d="M155 1395V1409M150.5 1395H159.5M150.5 1409H159.5" stroke="#000" stroke-width="1.4" fill="none"/>
<path d="M235 1389V1403M230.5 1389H239.5M230.5 1403H239.5" stroke="#000" stroke-width="1.4" fill="none"/>
<path d="M314.8 1384V1399M310.3 1384H319.3M310.3 1399H319.3" stroke="#000" stroke-width="1.4" fill="none"/>
<path d="M396 1372V1386M391.5 1372H400.5M391.5 1386H400.5" stroke="#000" stroke-width="1.4" fill="none"/>
<path d="M476.5 1360V1376M472 1360H481M472 1376H481" stroke="#000" stroke-width="1.4" fill="none"/>
<path d="M556.6 1308.5V1352.9M552.1 1308.5H561.1M552.1 1352.9H561.1" stroke="#000" stroke-width="1.4" fill="none"/>
<path d="M636.6 1215.2V1310.5M632.1 1215.2H641.1M632.1 1310.5H641.1" stroke="#000" stroke-width="1.4" fill="none"/>
<path d="M717.3 1165.1V1268.5M712.8 1165.1H721.8M712.8 1268.5H721.8" stroke="#000" stroke-width="1.4" fill="none"/>
<path d="M797.6 1056.1V1196.4M793.1 1056.1H802.1M793.1 1196.4H802.1" stroke="#000" stroke-width="1.4" fill="none"/>
<path d="M877.5 1024.8V1172.7M873 1024.8H882M873 1172.7H882" stroke="#000" stroke-width="1.4" fill="none"/>
<path d="M154.4 1380V1390M149.9 1380H158.9M149.9 1390H158.9" stroke="#000" stroke-width="1.4" fill="none"/>
<path d="M234.6 1357.8V1382.8M230.1 1357.8H239.1M230.1 1382.8H239.1" stroke="#000" stroke-width="1.4" fill="none"/>
<path d="M314.2 1344.9V1375.6M309.7 1344.9H318.7M309.7 1375.6H318.7" stroke="#000" stroke-width="1.4" fill="none"/>
<path d="M396.1 1319.5V1359.5M391.6 1319.5H400.6M391.6 1359.5H400.6" stroke="#000" stroke-width="1.4" fill="none"/>
<path d="M476 1254.5V1344.7M471.5 1254.5H480.5M471.5 1344.7H480.5" stroke="#000" stroke-width="1.4" fill="none"/>
<path d="M555.6 1166.6V1296.1M551.1 1166.6H560.1M551.1 1296.1H560.1" stroke="#000" stroke-width="1.4" fill="none"/>
<path d="M636.1 1101.5V1201.7M631.6 1101.5H640.6M631.6 1201.7H640.6" stroke="#000" stroke-width="1.4" fill="none"/>
<path d="M716.8 1038.3V1129.5M712.3 1038.3H721.3M712.3 1129.5H721.3" stroke="#000" stroke-width="1.4" fill="none"/>
<path d="M796.8 849.9V956M792.3 849.9H801.3M792.3 956H801.3" stroke="#000" stroke-width="1.4" fill="none"/>
<path d="M876.9 808.5V904.5M872.4 808.5H881.4M872.4 904.5H881.4" stroke="#000" stroke-width="1.4" fill="none"/>
<polyline points="155.2,1392 235.3,1390 315.3,1390 396,1389 476.3,1375.8 556.4,1358.3 636.6,1338 717.4,1310.8 797.4,1274.3 877.3,1271.2" fill="none" stroke="#000" stroke-width="2.7" stroke-linejoin="round"/>
<rect x="147.35" y="1384.15" width="15.7" height="15.7" fill="#fff" stroke="#000" stroke-width="1.3"/>
<rect x="227.45" y="1382.15" width="15.7" height="15.7" fill="#fff" stroke="#000" stroke-width="1.3"/>
<rect x="307.45" y="1382.15" width="15.7" height="15.7" fill="#fff" stroke="#000" stroke-width="1.3"/>
<rect x="388.15" y="1381.15" width="15.7" height="15.7" fill="#fff" stroke="#000" stroke-width="1.3"/>
<rect x="468.45" y="1367.95" width="15.7" height="15.7" fill="#fff" stroke="#000" stroke-width="1.3"/>
<rect x="548.55" y="1350.45" width="15.7" height="15.7" fill="#fff" stroke="#000" stroke-width="1.3"/>
<rect x="628.75" y="1330.15" width="15.7" height="15.7" fill="#fff" stroke="#000" stroke-width="1.3"/>
<rect x="709.55" y="1302.95" width="15.7" height="15.7" fill="#fff" stroke="#000" stroke-width="1.3"/>
<rect x="789.55" y="1266.45" width="15.7" height="15.7" fill="#fff" stroke="#000" stroke-width="1.3"/>
<rect x="869.45" y="1263.35" width="15.7" height="15.7" fill="#fff" stroke="#000" stroke-width="1.3"/>
<polyline points="155,1388 235,1370.3 315,1358.9 396.1,1337.1 476.5,1249.9 556,1214.4 636.4,1103.9 717.5,1012.2 797.4,929.2 877.2,877.8" fill="none" stroke="#000" stroke-width="2.7" stroke-linejoin="round"/>
<rect x="147.15" y="1380.15" width="15.7" height="15.7" fill="#000" stroke="#000" stroke-width="1.3"/>
<rect x="227.15" y="1362.45" width="15.7" height="15.7" fill="#000" stroke="#000" stroke-width="1.3"/>
<rect x="307.15" y="1351.05" width="15.7" height="15.7" fill="#000" stroke="#000" stroke-width="1.3"/>
<rect x="388.25" y="1329.25" width="15.7" height="15.7" fill="#000" stroke="#000" stroke-width="1.3"/>
<rect x="468.65" y="1242.05" width="15.7" height="15.7" fill="#000" stroke="#000" stroke-width="1.3"/>
<rect x="548.15" y="1206.55" width="15.7" height="15.7" fill="#000" stroke="#000" stroke-width="1.3"/>
<rect x="628.55" y="1096.05" width="15.7" height="15.7" fill="#000" stroke="#000" stroke-width="1.3"/>
<rect x="709.65" y="1004.35" width="15.7" height="15.7" fill="#000" stroke="#000" stroke-width="1.3"/>
<rect x="789.55" y="921.35" width="15.7" height="15.7" fill="#000" stroke="#000" stroke-width="1.3"/>
<rect x="869.35" y="869.95" width="15.7" height="15.7" fill="#000" stroke="#000" stroke-width="1.3"/>
<polyline points="155,1402 235,1396.2 314.8,1391.9 396,1378.9 476.5,1368.4 556.6,1330.7 636.6,1263.7 717.3,1216.2 797.6,1127.1 877.5,1099.8" fill="none" stroke="#000" stroke-width="2.7" stroke-linejoin="round"/>
<rect x="147.15" y="1394.15" width="15.7" height="15.7" fill="#fff" stroke="#000" stroke-width="1.3"/>
<clipPath id="c9"><rect x="146.5" y="1393.5" width="17" height="17"/></clipPath>
<path clip-path="url(#c9)" d="M136.02 1417.02L170.02 1383.02M139.98 1420.98L173.98 1386.98" stroke="#000" stroke-width="2.46"/>
<rect x="147.15" y="1394.15" width="15.7" height="15.7" fill="none" stroke="#000" stroke-width="1.3"/>
<rect x="227.15" y="1388.35" width="15.7" height="15.7" fill="#fff" stroke="#000" stroke-width="1.3"/>
<clipPath id="c10"><rect x="226.5" y="1387.7" width="17" height="17"/></clipPath>
<path clip-path="url(#c10)" d="M216.02 1411.22L250.02 1377.22M219.98 1415.18L253.98 1381.18" stroke="#000" stroke-width="2.46"/>
<rect x="227.15" y="1388.35" width="15.7" height="15.7" fill="none" stroke="#000" stroke-width="1.3"/>
<rect x="306.95" y="1384.05" width="15.7" height="15.7" fill="#fff" stroke="#000" stroke-width="1.3"/>
<clipPath id="c11"><rect x="306.3" y="1383.4" width="17" height="17"/></clipPath>
<path clip-path="url(#c11)" d="M295.82 1406.92L329.82 1372.92M299.78 1410.88L333.78 1376.88" stroke="#000" stroke-width="2.46"/>
<rect x="306.95" y="1384.05" width="15.7" height="15.7" fill="none" stroke="#000" stroke-width="1.3"/>
<rect x="388.15" y="1371.05" width="15.7" height="15.7" fill="#fff" stroke="#000" stroke-width="1.3"/>
<clipPath id="c12"><rect x="387.5" y="1370.4" width="17" height="17"/></clipPath>
<path clip-path="url(#c12)" d="M377.02 1393.92L411.02 1359.92M380.98 1397.88L414.98 1363.88" stroke="#000" stroke-width="2.46"/>
<rect x="388.15" y="1371.05" width="15.7" height="15.7" fill="none" stroke="#000" stroke-width="1.3"/>
<rect x="468.65" y="1360.55" width="15.7" height="15.7" fill="#fff" stroke="#000" stroke-width="1.3"/>
<clipPath id="c13"><rect x="468" y="1359.9" width="17" height="17"/></clipPath>
<path clip-path="url(#c13)" d="M457.52 1383.42L491.52 1349.42M461.48 1387.38L495.48 1353.38" stroke="#000" stroke-width="2.46"/>
<rect x="468.65" y="1360.55" width="15.7" height="15.7" fill="none" stroke="#000" stroke-width="1.3"/>
<rect x="548.75" y="1322.85" width="15.7" height="15.7" fill="#fff" stroke="#000" stroke-width="1.3"/>
<clipPath id="c14"><rect x="548.1" y="1322.2" width="17" height="17"/></clipPath>
<path clip-path="url(#c14)" d="M537.62 1345.72L571.62 1311.72M541.58 1349.68L575.58 1315.68" stroke="#000" stroke-width="2.46"/>
<rect x="548.75" y="1322.85" width="15.7" height="15.7" fill="none" stroke="#000" stroke-width="1.3"/>
<rect x="628.75" y="1255.85" width="15.7" height="15.7" fill="#fff" stroke="#000" stroke-width="1.3"/>
<clipPath id="c15"><rect x="628.1" y="1255.2" width="17" height="17"/></clipPath>
<path clip-path="url(#c15)" d="M617.62 1278.72L651.62 1244.72M621.58 1282.68L655.58 1248.68" stroke="#000" stroke-width="2.46"/>
<rect x="628.75" y="1255.85" width="15.7" height="15.7" fill="none" stroke="#000" stroke-width="1.3"/>
<rect x="709.45" y="1208.35" width="15.7" height="15.7" fill="#fff" stroke="#000" stroke-width="1.3"/>
<clipPath id="c16"><rect x="708.8" y="1207.7" width="17" height="17"/></clipPath>
<path clip-path="url(#c16)" d="M698.32 1231.22L732.32 1197.22M702.28 1235.18L736.28 1201.18" stroke="#000" stroke-width="2.46"/>
<rect x="709.45" y="1208.35" width="15.7" height="15.7" fill="none" stroke="#000" stroke-width="1.3"/>
<rect x="789.75" y="1119.25" width="15.7" height="15.7" fill="#fff" stroke="#000" stroke-width="1.3"/>
<clipPath id="c17"><rect x="789.1" y="1118.6" width="17" height="17"/></clipPath>
<path clip-path="url(#c17)" d="M778.62 1142.12L812.62 1108.12M782.58 1146.08L816.58 1112.08" stroke="#000" stroke-width="2.46"/>
<rect x="789.75" y="1119.25" width="15.7" height="15.7" fill="none" stroke="#000" stroke-width="1.3"/>
<rect x="869.65" y="1091.95" width="15.7" height="15.7" fill="#fff" stroke="#000" stroke-width="1.3"/>
<clipPath id="c18"><rect x="869" y="1091.3" width="17" height="17"/></clipPath>
<path clip-path="url(#c18)" d="M858.52 1114.82L892.52 1080.82M862.48 1118.78L896.48 1084.78" stroke="#000" stroke-width="2.46"/>
<rect x="869.65" y="1091.95" width="15.7" height="15.7" fill="none" stroke="#000" stroke-width="1.3"/>
<polyline points="154.4,1384.7 234.6,1370.3 314.2,1358.9 396.1,1337.1 476,1299.5 555.6,1230 636.1,1151.6 716.8,1083.4 796.8,902.2 876.9,856.1" fill="none" stroke="#000" stroke-width="2.7" stroke-linejoin="round"/>
<rect x="146.4" y="1376.7" width="16" height="16" fill="#7f7f7f" stroke="#000" stroke-width="1.6"/>
<rect x="226.6" y="1362.3" width="16" height="16" fill="#7f7f7f" stroke="#000" stroke-width="1.6"/>
<rect x="306.2" y="1350.9" width="16" height="16" fill="#7f7f7f" stroke="#000" stroke-width="1.6"/>
<rect x="388.1" y="1329.1" width="16" height="16" fill="#7f7f7f" stroke="#000" stroke-width="1.6"/>
<rect x="468" y="1291.5" width="16" height="16" fill="#7f7f7f" stroke="#000" stroke-width="1.6"/>
<rect x="547.6" y="1222" width="16" height="16" fill="#7f7f7f" stroke="#000" stroke-width="1.6"/>
<rect x="628.1" y="1143.6" width="16" height="16" fill="#7f7f7f" stroke="#000" stroke-width="1.6"/>
<rect x="708.8" y="1075.4" width="16" height="16" fill="#7f7f7f" stroke="#000" stroke-width="1.6"/>
<rect x="788.8" y="894.2" width="16" height="16" fill="#7f7f7f" stroke="#000" stroke-width="1.6"/>
<rect x="868.9" y="848.1" width="16" height="16" fill="#7f7f7f" stroke="#000" stroke-width="1.6"/>
<path d="M397 1301.1V1316.4M390.15 1304.92L403.85 1312.58M390.15 1312.58L403.85 1304.92" stroke="#000" stroke-width="2.6" fill="none"/>
<path d="M415.3 1349.5V1363.6M408.45 1353.03L422.15 1360.07M408.45 1360.07L422.15 1353.03" stroke="#000" stroke-width="2.6" fill="none"/>
<path d="M455.2 1189V1203.5M448.35 1192.62L462.05 1199.88M448.35 1199.88L462.05 1192.62M476.5 1189V1203.5M469.65 1192.62L483.35 1199.88M469.65 1199.88L483.35 1192.62M497.8 1189V1203.5M490.95 1192.62L504.65 1199.88M490.95 1199.88L504.65 1192.62" stroke="#000" stroke-width="2.6" fill="none"/>
<text transform="matrix(0.2,0,0,0.24,485.78,1323.54)" font-size="100" font-weight="bold" fill="#000" stroke="#000" stroke-width="5.46" stroke-linejoin="round">§</text>
<path d="M490.8 1335.6V1349.8M483.95 1339.15L497.65 1346.25M483.95 1346.25L497.65 1339.15M512.1 1335.6V1349.8M505.25 1339.15L518.95 1346.25M505.25 1346.25L518.95 1339.15" stroke="#000" stroke-width="2.6" fill="none"/>
<path d="M491.12 1377.3L488.41 1397.8M498.25 1377.3L495.54 1397.8M487.57 1383.01H500.1M486.8 1391.52H499.01" stroke="#000" stroke-width="2.2" stroke-linecap="round" fill="none"/>
<path d="M537.1 1150.3V1164.4M530.25 1153.82L543.95 1160.88M530.25 1160.88L543.95 1153.82M558.4 1150.3V1164.4M551.55 1153.82L565.25 1160.88M551.55 1160.88L565.25 1153.82M579.7 1150.3V1164.4M572.85 1153.82L586.55 1160.88M572.85 1160.88L586.55 1153.82" stroke="#000" stroke-width="2.6" fill="none"/>
<text transform="matrix(0.21,0,0,0.23,563.16,1268.09)" font-size="100" font-weight="bold" fill="#000" stroke="#000" stroke-width="5.43" stroke-linejoin="round">§</text>
<path d="M566.8 1277V1291M559.95 1280.5L573.65 1287.5M559.95 1287.5L573.65 1280.5M588.1 1277V1291M581.25 1280.5L594.95 1287.5M581.25 1287.5L594.95 1280.5M609.4 1277V1291M602.55 1280.5L616.25 1287.5M602.55 1287.5L616.25 1280.5" stroke="#000" stroke-width="2.6" fill="none"/>
<path d="M580.62 1326.5L577.66 1347M588.39 1326.5L585.43 1347M576.65 1332.21H590.5M575.8 1340.72H589.32" stroke="#000" stroke-width="2.2" stroke-linecap="round" fill="none"/>
<path d="M615.2 1037.6V1052.1M608.35 1041.22L622.05 1048.47M608.35 1048.47L622.05 1041.22M636.5 1037.6V1052.1M629.65 1041.22L643.35 1048.47M629.65 1048.47L643.35 1041.22M657.8 1037.6V1052.1M650.95 1041.22L664.65 1048.47M650.95 1048.47L664.65 1041.22" stroke="#000" stroke-width="2.6" fill="none"/>
<text transform="matrix(0.19,0,0,0.23,652.9,1180.29)" font-size="100" font-weight="bold" fill="#000" stroke="#000" stroke-width="5.64" stroke-linejoin="round">§</text>
<path d="M658.9 1193.5V1207M652.05 1196.88L665.75 1203.62M652.05 1203.62L665.75 1196.88M680.2 1193.5V1207M673.35 1196.88L687.05 1203.62M673.35 1203.62L687.05 1196.88M701.5 1193.5V1207M694.65 1196.88L708.35 1203.62M694.65 1203.62L708.35 1196.88" stroke="#000" stroke-width="2.6" fill="none"/>
<path d="M655.89 1278.8L652.85 1298.8M663.89 1278.8L660.85 1298.8M651.77 1284.36H666.1M650.9 1292.69H664.88" stroke="#000" stroke-width="2.2" stroke-linecap="round" fill="none"/>
<path d="M697 944.5V958M690.15 947.88L703.85 954.62M690.15 954.62L703.85 947.88M718.3 944.5V958M711.45 947.88L725.15 954.62M711.45 954.62L725.15 947.88M739.6 944.5V958M732.75 947.88L746.45 954.62M732.75 954.62L746.45 947.88" stroke="#000" stroke-width="2.6" fill="none"/>
<text transform="matrix(0.23,0,0,0.23,726.39,1110.07)" font-size="100" font-weight="bold" fill="#000" stroke="#000" stroke-width="5.11" stroke-linejoin="round">§</text>
<path d="M733.4 1122.3V1136.3M726.55 1125.8L740.25 1132.8M726.55 1132.8L740.25 1125.8M754.7 1122.3V1136.3M747.85 1125.8L761.55 1132.8M747.85 1132.8L761.55 1125.8M776 1122.3V1136.3M769.15 1125.8L782.85 1132.8M769.15 1132.8L782.85 1125.8" stroke="#000" stroke-width="2.6" fill="none"/>
<path d="M734.45 1231.8L731.52 1251.2M742.13 1231.8L739.2 1251.2M730.54 1237.18H744.2M729.7 1245.28H743.03" stroke="#000" stroke-width="2.2" stroke-linecap="round" fill="none"/>
<path d="M777.1 830V843.5M770.25 833.38L783.95 840.12M770.25 840.12L783.95 833.38M798.4 830V843.5M791.55 833.38L805.25 840.12M791.55 840.12L805.25 833.38M819.7 830V843.5M812.85 833.38L826.55 840.12M812.85 840.12L826.55 833.38" stroke="#000" stroke-width="2.6" fill="none"/>
<text transform="matrix(0.22,0,0,0.24,808.72,946.56)" font-size="100" font-weight="bold" fill="#000" stroke="#000" stroke-width="5.21" stroke-linejoin="round">§</text>
<path d="M818.4 964.6V978.5M811.55 968.07L825.25 975.02M811.55 975.02L825.25 968.07M839.7 964.6V978.5M832.85 968.07L846.55 975.02M832.85 975.02L846.55 968.07M861 964.6V978.5M854.15 968.07L867.85 975.02M854.15 975.02L867.85 968.07" stroke="#000" stroke-width="2.6" fill="none"/>
<path d="M810.65 1160.3L807.68 1181M818.47 1160.3L815.5 1181M806.65 1166.07H820.6M805.8 1174.66H819.41" stroke="#000" stroke-width="2.2" stroke-linecap="round" fill="none"/>
<path d="M855.5 791V805M848.65 794.5L862.35 801.5M848.65 801.5L862.35 794.5M876.8 791V805M869.95 794.5L883.65 801.5M869.95 801.5L883.65 794.5M898.1 791V805M891.25 794.5L904.95 801.5M891.25 801.5L904.95 794.5" stroke="#000" stroke-width="2.6" fill="none"/>
<text transform="matrix(0.2,0,0,0.25,886.87,920.93)" font-size="100" font-weight="bold" fill="#000" stroke="#000" stroke-width="5.32" stroke-linejoin="round">§</text>
<path d="M895 940.1V955.3M888.15 943.9L901.85 951.5M888.15 951.5L901.85 943.9M916.3 940.1V955.3M909.45 943.9L923.15 951.5M909.45 951.5L923.15 943.9M937.6 940.1V955.3M930.75 943.9L944.45 951.5M930.75 951.5L944.45 943.9" stroke="#000" stroke-width="2.6" fill="none"/>
<path d="M889.58 1134.7L886.64 1154.9M897.31 1134.7L894.37 1154.9M885.64 1140.32H899.4M884.8 1148.72H898.22" stroke="#000" stroke-width="2.2" stroke-linecap="round" fill="none"/>
</svg></body></html>
